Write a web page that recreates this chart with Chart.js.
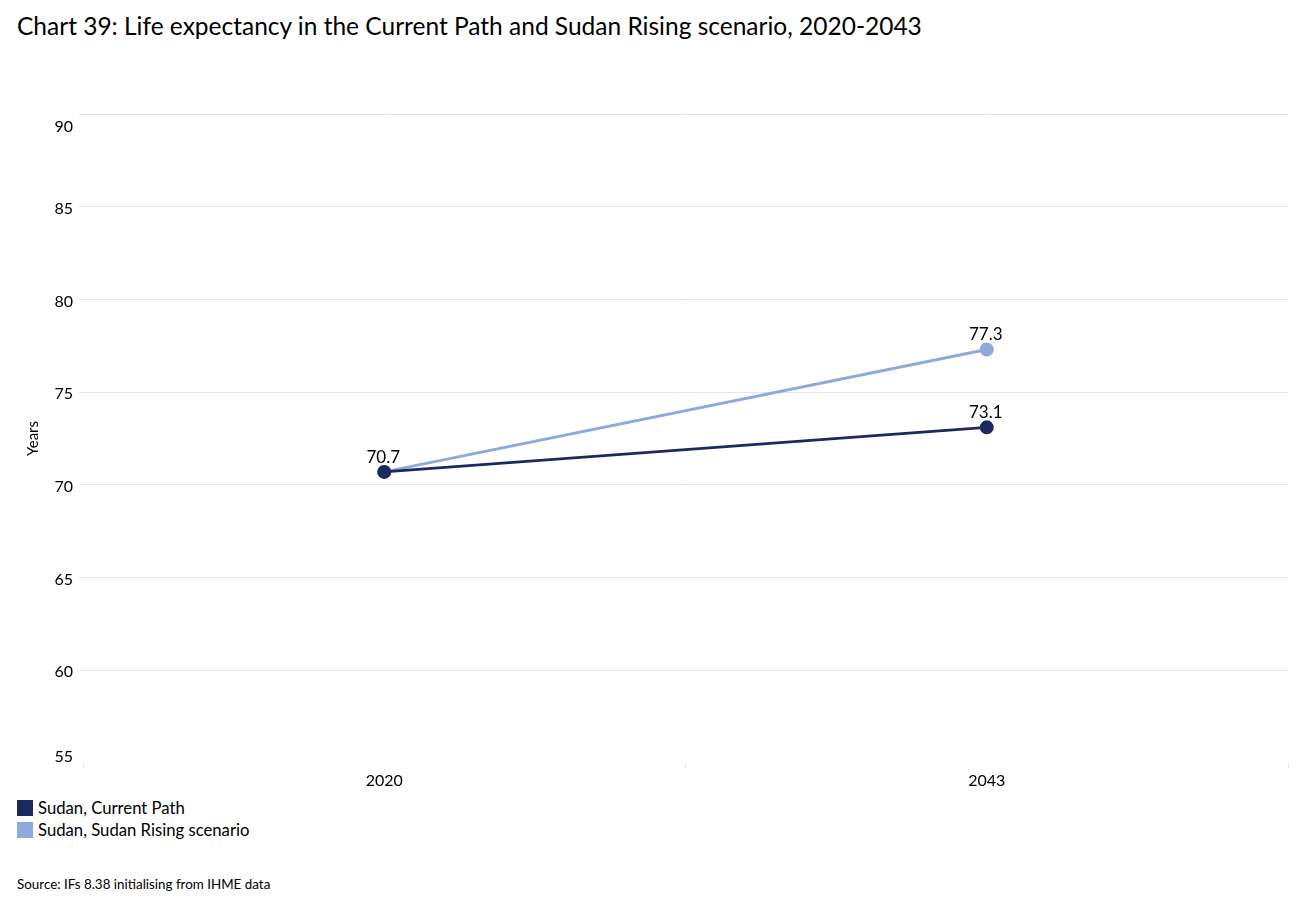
<!DOCTYPE html>
<html>
<head>
<meta charset="utf-8">
<script src="https://cdn.jsdelivr.net/npm/chart.js@4.4.0/dist/chart.umd.min.js"></script>
<style>
  html, body { margin: 0; padding: 0; background: #fff; }
  body { width: 1301px; height: 923px; position: relative; overflow: hidden; font-family: Lato, "Open Sans", sans-serif; color: #000; }
  #title { position: absolute; left: 17px; top: 11px; font-size: 24.5px; white-space: nowrap; }
  #wrap { position: absolute; left: 0; top: 0; width: 1301px; height: 795px; }
  #legend { position: absolute; left: 17px; top: 797px; font-size: 16.7px; }
  .item { display: flex; align-items: center; height: 22px; }
  .box { width: 16px; height: 16px; margin-right: 5px; }
  #source { position: absolute; left: 17px; top: 876px; font-size: 13.4px; white-space: nowrap; }
</style>
</head>
<body>
<div id="title">Chart 39: Life expectancy in the Current Path and Sudan Rising scenario, 2020-2043</div>
<div id="wrap"><canvas id="c"></canvas></div>
<div id="legend"></div>
<div id="source">Source: IFs 8.38 initialising from IHME data</div>
<script>
const categories = ['2020', '2043'];
const seriesNames = ['Sudan, Current Path', 'Sudan, Sudan Rising scenario'];
const currentPath = [70.7, 73.1];
const sudanRising = [70.7, 77.3];
const yTicks = [55, 60, 65, 70, 75, 80, 85, 90];
const colors = ['#1b2a5e', '#8eaadb'];

const FONT = 'Lato, "Open Sans", sans-serif';

const dataLabels = {
  id: 'dataLabels',
  afterDatasetsDraw(chart) {
    const ctx = chart.ctx;
    ctx.save();
    ctx.font = '17px ' + FONT;
    ctx.fillStyle = '#000';
    ctx.textAlign = 'center';
    ctx.textBaseline = 'bottom';
    const shown = {};
    chart.data.datasets.forEach((ds, di) => {
      const meta = chart.getDatasetMeta(di);
      meta.data.forEach((pt, i) => {
        const key = i + ':' + ds.data[i];
        if (shown[key]) return;
        shown[key] = true;
        ctx.fillText(ds.data[i].toFixed(1), pt.x - 1, pt.y - 6);
      });
    });
    ctx.restore();
  }
};

// y tick labels kept inside the plot area at the top and bottom ends, as in the reference
const yLabels = {
  id: 'yLabels',
  afterDraw(chart) {
    const s = chart.scales.y;
    const area = chart.chartArea;
    const ctx = chart.ctx;
    ctx.save();
    ctx.font = '16px ' + FONT;
    ctx.fillStyle = '#000';
    ctx.textAlign = 'right';
    ctx.textBaseline = 'middle';
    s.ticks.forEach(t => {
      let y = s.getPixelForValue(t.value);
      y = Math.max(area.top + 13, Math.min(area.bottom - 6, y + 2));
      ctx.fillText(String(t.value), area.left - 10, y);
    });
    ctx.restore();
  }
};

const datasets = [currentPath, sudanRising].map((d, i) => ({
  label: seriesNames[i],
  data: d,
  borderColor: colors[i],
  backgroundColor: colors[i],
  pointBackgroundColor: colors[i],
  pointBorderColor: colors[i],
  borderWidth: 3,
  pointRadius: 5.5,
  pointHoverRadius: 5.5,
  tension: 0
}));

new Chart(document.getElementById('c'), {
  type: 'line',
  data: { labels: categories, datasets },
  options: {
    responsive: true,
    maintainAspectRatio: false,
    animation: false,
    layout: { padding: { top: 114, right: 13, left: 0, bottom: 0 } },
    plugins: { legend: { display: false }, title: { display: false }, tooltip: { enabled: false } },
    scales: {
      x: {
        offset: true,
        border: { display: false },
        grid: { display: true, drawOnChartArea: false, drawTicks: true, tickLength: 5, color: '#ececec', offset: true },
        ticks: { color: '#000', font: { family: FONT, size: 16 }, padding: 3 },
        afterFit(s) { s.height = 32; }
      },
      y: {
        min: 55, max: 90,
        afterBuildTicks(s) { s.ticks = yTicks.map(v => ({ value: v })); },
        border: { display: false },
        grid: {
          color: ctx => (ctx.tick && ctx.tick.value === 55) ? 'rgba(0,0,0,0)' : '#e6e6e6',
          drawTicks: true, tickLength: 4, lineWidth: 1
        },
        ticks: { color: 'rgba(0,0,0,0)', font: { family: FONT, size: 16 }, padding: 6 },
        title: { display: true, text: 'Years', color: '#000', font: { family: FONT, size: 15 }, padding: { top: 24, bottom: 0 } },
        afterFit(s) { s.width = 83; }
      }
    }
  },
  plugins: [dataLabels, yLabels]
});

const legend = document.getElementById('legend');
seriesNames.forEach((n, i) => {
  const it = document.createElement('div');
  it.className = 'item';
  it.innerHTML = '<div class="box" style="background:' + colors[i] + '"></div><span>' + n + '</span>';
  legend.appendChild(it);
});
</script>
</body>
</html>
